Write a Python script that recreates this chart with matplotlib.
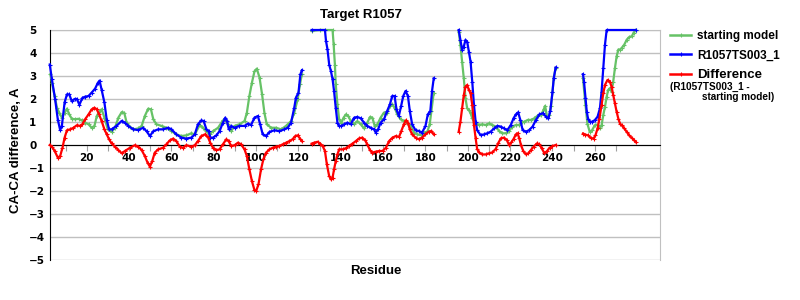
import numpy as np
import matplotlib
matplotlib.use("Agg")
import matplotlib.pyplot as plt
from matplotlib.lines import Line2D

# values; None = gap between segments
start_res = [2.8, 3.5, 4.8, 5.9, 7, 8.2, 9.5, 10.6, 11.7, 12.9, 14.5, 16.1, 17.6, 19.2, 20.8, 22.3,
             23.6, 24.7, 26, 27, 28.3, 29.9, 31.7, 33.3, 34.9, 36.5, 37.7, 38.8, 40.4, 42, 44.3, 45.9,
             47.4, 49, 50.3, 51.4, 52.9, 55.3, 57.6, 60, 62.3, 64.7, 67, 69.4, 71, 73.3, 74.9, 76.5,
             78, 79.6, 82, 84.3, 85.6, 86.7, 88.2, 89.8, 92.1, 94.5, 95.6, 96.8, 98, 99.2, 100.3,
             101.6, 102.8, 103.9, 105, 107.1, 109.4, 111.8, 114.1, 116.5, 118, 119.6, 120.7, 121.6,
             None,
             126.2, 130, 136.1, 136.6, 137.2, 137.6, 138.4, 139.2, 140.3, 141.3, 142.4, 143.5, 144.7,
             146.3, 147.8, 149.4, 151, 152.5, 153.8, 154.9, 156, 157.3, 158.8, 160.4, 161.9, 163.2,
             164.3, 165.4, 166.7, 168.2, 169.8, 171.4, 173, 174.6, 176.1, 177.7, 179.3, 180.9, 182,
             182.8, 183.9,
             None,
             195.7, 196.5, 197.3, 198.1, 198.9, 199.7, 200.5, 201.3, 202.1, 202.9, 203.7, 205.2, 206.8,
             208.4, 210, 211.6, 213.2, 214.8, 216.3, 217.9, 219.5, 221.1, 222.7, 224.3, 225.4, 226.7,
             228.3, 229.9, 231.4, 233, 234.6, 235.9, 236.5, 237.5, 238.5, 239.3, 240, 240.6, 241.5,
             None,
             254.4, 255.6, 256.5, 257.6, 258.7, 260, 261.3, 262.4, 263.2, 264, 264.8, 265.6, 266.3,
             267.1, 267.9, 268.7, 269.5, 270.3, 271.1, 271.9, 272.7, 273.9, 275.1, 276.2, 277.5,
             278.3, 279.3]
start_val = [3.07, 2.7, 2.13, 1.62, 1.4, 1.19, 1.4, 1.58, 1.33, 1.14, 1.12, 1.14, 1.07, 0.97, 0.9, 0.75,
             0.83, 1.26, 1.48, 1.55, 1.19, 0.68, 0.57, 0.75, 1.19, 1.43, 1.4, 0.97, 0.78, 0.68, 0.72, 0.83,
             1.26, 1.58, 1.55, 1.12, 0.9, 0.83, 0.75, 0.6, 0.46, 0.39, 0.42, 0.51, 0.46, 0.86, 0.75, 0.6,
             0.46, 0.6, 0.75, 1.07, 1.07, 0.9, 0.6, 0.83, 0.9, 1.04, 1.4, 2.13, 2.71, 3.2, 3.32,
             2.93, 2.2, 1.4, 0.9, 0.75, 0.75, 0.68, 0.83, 1.04, 1.4, 1.98, 2.64, 3.07,
             None,
             4.96, 5.0, 5.0, 4.38, 3.5, 2.64, 1.77, 1.12, 0.97, 1.19, 1.33, 1.26, 1.04,
             0.9, 1.04, 0.9, 0.72, 0.97, 1.22, 1.19, 0.83, 0.9, 1.19, 1.41, 1.41, 1.7,
             1.77, 1.62, 1.33, 1.12, 1.04, 0.97, 0.83, 0.54, 0.46, 0.43, 0.54, 0.58, 0.9,
             1.48, 2.28,
             None,
             4.93, 4.35, 3.62, 2.9, 2.03, 1.59, 1.52, 1.38, 1.16, 1.01, 0.94, 0.87, 0.9,
             0.87, 0.94, 0.87, 0.8, 0.61, 0.51, 0.51, 0.61, 0.8, 0.87, 0.87, 0.99, 1.01,
             1.09, 1.09, 1.16, 1.28, 1.3, 1.55, 1.7, 1.2, 1.3, 1.7, 2.3, 2.9, 3.35,
             None,
             2.9, 1.74, 0.93, 0.57, 0.64, 0.86, 0.89, 0.72, 0.86, 1.3, 1.66, 2.1, 2.39,
             2.47, 2.32, 2.76, 3.34, 3.85, 4.15, 4.15, 4.22, 4.36, 4.58, 4.69, 4.73,
             4.88, 5.0]

model_res = [2.5, 3.5, 5, 6.3, 7.4, 8.2, 9.5, 10.6, 11.7, 12.9, 14.2, 15.3, 16.5, 17.9, 19.2, 20.8,
             22.3, 23.9, 25.2, 26, 27, 28.3, 29.4, 30.5, 31.7, 34, 36.5, 38, 39.6, 42, 44.3, 46.6,
             48.2, 49.8, 51.4, 53.7, 56, 58.4, 60, 62.3, 64.7, 67, 69.4, 71, 72.5, 74.1, 75.2, 76.5,
             77.6, 78.3, 79.6, 81.2, 82.7, 84.3, 85.4, 86.2, 87.1, 88.2, 89.8, 92.1, 94.5, 96.1,
             97.6, 99.2, 100.8, 101.9, 103.1, 104.7, 106.3, 108.6, 111, 113.3, 114.9, 116.5, 118,
             118.8, 120, 120.9, 121.6,
             None,
             126.2, 132.5, 133, 133.7, 134.5, 135.3, 136.1, 136.8, 137.6, 138.4, 139.2, 140.3, 141.6,
             143.1, 144.7, 146.3, 147.8, 149.4, 151, 152.5, 154.1, 155.7, 156.5, 157.6, 158.8, 160.4,
             161.9, 163.2, 164.3, 165.4, 166.3, 167.4, 168.5, 169.5, 170.6, 171.7, 172.6, 173.7,
             175.3, 176.8, 178.4, 180, 181.1, 182.3, 183.1, 183.9,
             None,
             195.7, 196.5, 197.3, 198.1, 198.9, 199.7, 200.5, 201.3, 202.1, 202.9, 203.7, 204.4, 206,
             207.6, 209.2, 210.8, 212.4, 214, 215.6, 217.1, 218.7, 220.3, 221.6, 222.7, 223.8, 224.8,
             225.9, 227.5, 229, 230.6, 232.2, 233.8, 235.4, 237, 238.1, 239, 240, 240.6, 241.5,
             None,
             254.4, 254.9, 255.6, 256.2, 256.8, 257.6, 258.7, 260, 261.3, 262.4, 263.2, 264, 264.8,
             265.6, 279.3]
model_val = [3.5, 2.85, 2.0, 1.1, 0.65, 0.83, 1.85, 2.2, 2.2, 1.9, 2.0, 2.0, 1.75, 2.05, 2.1, 2.13,
             2.28, 2.45, 2.7, 2.8, 2.4, 1.85, 1.1, 0.68, 0.68, 0.83, 1.05, 0.97, 0.83, 0.68, 0.65, 0.75,
             0.6, 0.39, 0.6, 0.68, 0.68, 0.75, 0.68, 0.46, 0.32, 0.28, 0.32, 0.46, 0.9, 1.07, 1.04, 0.68,
             0.6, 0.32, 0.32, 0.42, 0.6, 0.97, 1.19, 1.04, 0.68, 0.83, 0.75, 0.83, 0.83, 0.93,
             0.87, 1.19, 1.26, 0.9, 0.46, 0.39, 0.57, 0.64, 0.6, 0.68, 0.75, 0.97, 1.62,
             2.06, 2.28, 3.07, 3.25,
             None,
             5.0, 5.0, 4.52, 4.16, 3.5, 3.22, 2.86, 2.35, 1.62, 0.97, 0.83, 0.83, 0.9,
             0.97, 0.9, 1.19, 1.22, 1.16, 0.97, 0.83, 0.75, 0.68, 0.54, 0.68, 0.97, 1.12,
             1.48, 1.77, 2.13, 2.13, 1.55, 1.26, 1.7, 2.13, 2.35, 2.13, 1.48, 0.9,
             0.64, 0.61, 0.54, 0.83, 1.33, 1.48, 2.35, 2.9,
             None,
             5.0, 4.57, 4.14, 4.28, 4.57, 4.49, 4.06, 3.62, 2.75, 1.74, 1.01, 0.65, 0.43,
             0.46, 0.51, 0.58, 0.72, 0.83, 0.8, 0.72, 0.65, 0.87, 1.16, 1.33, 1.42, 1.09,
             0.65, 0.58, 0.65, 0.8, 1.09, 1.33, 1.38, 1.23, 1.16, 1.5, 2.3, 2.9, 3.37,
             None,
             3.08, 2.76, 2.03, 1.45, 1.15, 1.01, 1.01, 1.08, 1.23, 1.59, 2.32, 3.34, 4.36,
             5.0, 5.0]

diff_res = [2.5, 3.5, 4.8, 6.3, 7.4, 8.5, 9.5, 10.6, 12.1, 13.7, 15.3, 16.8, 17.9, 19.2, 20.8, 22.3,
            23.6, 24.7, 25.8, 27, 28.3, 29.4, 30.5, 31.7, 33.3, 34.9, 36.5, 38, 40.4, 42.7, 44.3,
            45.9, 47.4, 48.7, 49.8, 50.9, 52.1, 53.7, 56, 57.6, 59.2, 60.8, 62.3, 63.9, 65.5, 67,
            69.4, 71, 72.5, 74.1, 75.7, 77.2, 78.3, 79.6, 81.2, 82.7, 84.3, 85.9, 87, 88.2, 89.8,
            91.4, 92.9, 94.5, 95.6, 96.8, 98, 99.2, 100, 101.1, 102.3, 103.4, 104.7, 106.3, 107.8,
            109.4, 111, 112.6, 114.1, 115.7, 117.2, 118.5, 119.6, 120.7, 121.6,
            None,
            126.2, 127.4, 129, 130.3, 131.4, 132.5, 133.4, 134.5, 135.3, 136.1, 136.8, 137.6, 138.4,
            139.2, 140.8, 142.4, 143.9, 145.5, 147.1, 148.7, 150.2, 151.5, 152.5, 153.8, 154.9,
            156.5, 158.1, 159.7, 161.3, 162.8, 164.4, 166, 167.5, 168.6, 169.8, 170.7, 171.7, 172.6,
            173.7, 175.3, 176.8, 178.4, 180, 181.5, 182.8, 183.9,
            None,
            195.7, 196.5, 197.3, 198.1, 198.9, 199.7, 200.5, 201.3, 202.1, 202.9, 203.7, 204.4, 205.2,
            206.8, 208.4, 210, 211.6, 213.2, 214.3, 215.6, 217.1, 218.4, 219.5, 220.6, 221.6, 222.7,
            223.5, 224.3, 225.1, 226.2, 227.5, 228.6, 229.8, 231.1, 232.7, 233.8, 234.9, 236.2,
            237.5, 238.6, 240, 241.5,
            None,
            254.4, 255.6, 256.8, 258.1, 259.4, 260.3, 261.3, 262.2, 263.2, 264, 264.8, 266, 267.1,
            267.9, 268.7, 269.5, 270.3, 271.1, 271.9, 272.7, 273.9, 275.1, 276.2, 277.5, 278.6, 279.3]
diff_val = [0.0, -0.07, -0.26, -0.55, -0.48, -0.12, 0.32, 0.64, 0.68, 0.75, 0.86, 0.83, 0.9, 1.12, 1.33, 1.55,
            1.62, 1.55, 1.33, 1.04, 0.68, 0.46, 0.25, 0.07, -0.07, -0.22, -0.36, -0.26, -0.12, -0.01, -0.07,
            -0.22, -0.48, -0.77, -0.94, -0.7, -0.33, -0.19, -0.12, 0.03, 0.2, 0.28, 0.17, -0.07, -0.12, -0.01,
            -0.07, -0.01, 0.17, 0.39, 0.46, 0.35, 0.1, -0.12, -0.22, -0.19, 0.03, 0.25, 0.17, -0.04, -0.01,
            0.1, 0.03, -0.19, -0.48, -1.06, -1.57, -1.96, -2.0, -1.71, -1.06, -0.62, -0.33, -0.19, -0.12,
            -0.07, -0.04, 0.03, 0.1, 0.17, 0.25, 0.39, 0.42, 0.28, 0.17,
            None,
            0.06, 0.1, 0.14, 0.06, -0.04, -0.26, -0.84, -1.35, -1.49, -1.42, -1.06, -0.7, -0.41,
            -0.19, -0.19, -0.14, -0.04, 0.06, 0.17, 0.29, 0.32, 0.2, 0.03, -0.23, -0.33,
            -0.29, -0.26, -0.26, -0.12, 0.17, 0.32, 0.39, 0.35, 0.61, 0.9, 1.07, 0.97, 0.68,
            0.46, 0.32, 0.25, 0.32, 0.46, 0.58, 0.61, 0.46,
            None,
            0.58, 1.01, 1.59, 2.17, 2.54, 2.61, 2.39, 2.25, 1.74, 0.87, 0.29, -0.17, -0.32,
            -0.41, -0.41, -0.36, -0.32, -0.17, 0.07, 0.29, 0.32, 0.22, 0.0, 0.12, 0.26, 0.46,
            0.51, 0.29, 0.0, -0.26, -0.41, -0.36, -0.22, -0.07, 0.07, 0.03, -0.14, -0.36,
            -0.26, -0.12, -0.05, 0.0,
            None,
            0.5, 0.45, 0.42, 0.31, 0.28, 0.42, 0.72, 1.15, 1.74, 2.25, 2.61, 2.83, 2.76,
            2.54, 2.18, 1.81, 1.45, 1.15, 0.93, 0.86, 0.72, 0.57, 0.42, 0.31, 0.2, 0.13]

series_names = ["starting model", "R1057TS003_1", "Difference"]
series_colors = ["#66c266", "#0000ff", "#ff0000"]
x_ticks = list(range(10, 271, 10))
x_labels = [str(t) if t % 20 == 0 and t <= 260 else "" for t in x_ticks]
y_ticks = list(range(-5, 6))

fig = plt.figure(figsize=(8, 3), dpi=100)
ax = fig.add_axes([50 / 800, 40 / 300, 610 / 800, 230 / 300])

data = [(start_res, start_val), (model_res, model_val), (diff_res, diff_val)]
for (xs, ys), name, col in zip(data, series_names, series_colors):
    # values are capped at the top of the axis, so draw without clipping
    ax.plot(np.array(xs, dtype=float), np.array(ys, dtype=float), color=col, lw=1.6,
            marker="+", ms=3, mew=0.8, label=name, clip_on=False, zorder=3)

ax.set_xlim(2.6, 290.8)
ax.set_ylim(-5, 5)
ax.set_yticks(y_ticks)
ax.set_xticks(x_ticks)
ax.set_xticklabels(x_labels)
ax.yaxis.grid(True, color="#c0c0c0", lw=1)
ax.set_axisbelow(True)

ax.spines["bottom"].set_position(("data", 0))
ax.spines["bottom"].set_color("black")
ax.spines["left"].set_color("black")
ax.spines["top"].set_color("#c0c0c0")
ax.spines["right"].set_color("#c0c0c0")
ax.spines["top"].set_zorder(1)

ax.tick_params(axis="x", length=4, color="#a0a0a0", pad=2, labelsize=7.5)
ax.tick_params(axis="y", length=0, pad=15, labelsize=7.5)
for lab in ax.get_xticklabels() + ax.get_yticklabels():
    lab.set_fontweight("bold")
    lab.set_family("DejaVu Sans")
for lab in ax.get_yticklabels():
    lab.set_ha("left")

fig.text(0.451, 0.95, "Target R1057", ha="center", va="center", fontsize=9.5,
         fontweight="bold", family="Liberation Sans")
fig.text(0.47, 0.098, "Residue", ha="center", va="center", fontsize=9.5,
         fontweight="bold", family="Liberation Sans")
fig.text(0.02, 0.5, "CA-CA difference, A", ha="center", va="center", rotation=90,
         fontsize=9.5, fontweight="bold", family="Liberation Sans")

handles = [Line2D([], [], color=c, lw=1.8, marker="+", ms=3, mew=0.8) for c in series_colors]
leg = ax.legend(handles, series_names, loc="upper left", bbox_to_anchor=(670 / 800, 0.90),
                bbox_transform=fig.transFigure, frameon=False, borderpad=0, borderaxespad=0,
                handlelength=1.8, handletextpad=0.5, labelspacing=0.62, numpoints=1,
                prop={"family": "Liberation Sans", "weight": "bold", "size": 8.5})
leg.get_texts()[2].set_fontsize(9.5)

fig.text(670 / 800, 1 - 87 / 300, "(R1057TS003_1 -", ha="left", va="center", fontsize=7.2,
         fontweight="bold", family="Liberation Sans")
fig.text(702 / 800, 1 - 97.5 / 300, "starting model)", ha="left", va="center", fontsize=7.2,
         fontweight="bold", family="Liberation Sans")

fig.savefig("out.png", dpi=100)
